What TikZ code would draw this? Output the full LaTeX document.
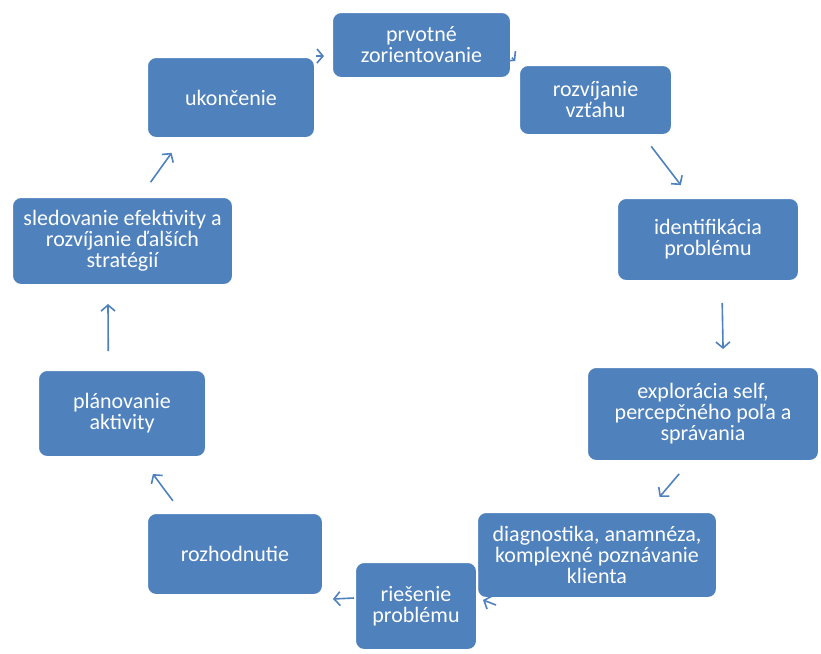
\documentclass[tikz,border=0pt]{standalone}
\usepackage{fontspec}
\setmainfont{Carlito}
\usetikzlibrary{arrows.meta}
\definecolor{boxblue}{RGB}{79,129,189}

\begin{document}
\begin{tikzpicture}[
    x=1pt,y=-1pt,
    stagebox/.style={draw=white, line width=2pt, rounded corners=9pt, fill=boxblue, text=white, align=center, inner sep=2pt, font=\fontsize{22}{21}\selectfont},
    arr/.style={draw=boxblue, line width=1.6pt, -{Straight Barb[length=6pt,width=14pt]}}
]
    \useasboundingbox (0,0) rectangle (821,653);

    % Stages of the cycle
    \node[stagebox, minimum width=179pt, minimum height=66pt] (prvo) at (421.5,45) {prvotné\\zorientovanie};
    \node[stagebox, minimum width=153pt, minimum height=70pt] (rozv) at (595.5,100) {rozvíjanie\\vzťahu};
    \node[stagebox, minimum width=182pt, minimum height=83pt] (iden) at (708,239.5) {identifikácia\\problému};
    \node[stagebox, minimum width=232pt, minimum height=94pt] (expl) at (703,414) {explorácia self,\\percepčného poľa a\\správania};
    \node[stagebox, minimum width=240pt, minimum height=86pt] (diag) at (597,555) {diagnostika, anamnéza,\\komplexné poznávanie\\klienta};
    \node[stagebox, minimum width=122pt, minimum height=88pt] (ries) at (416,606) {riešenie\\problému};
    \node[stagebox, minimum width=176pt, minimum height=82pt] (rozh) at (235,554) {rozhodnutie};
    \node[stagebox, minimum width=168pt, minimum height=87pt] (plan) at (122,413.5) {plánovanie\\aktivity};
    \node[stagebox, minimum width=221pt, minimum height=88pt] (sled) at (122.5,241) {sledovanie efektivity a\\rozvíjanie ďalších\\stratégií};
    \node[stagebox, minimum width=168pt, minimum height=81pt] (ukon) at (231,97.5) {ukončenie};

    % Arrows
    \draw[arr, shorten >=7pt] (ukon.north east) -- (prvo.187);
    \draw[arr, shorten >=4pt] (prvo.-8) -- (rozv.north west);
    \draw[arr, shorten <=13pt, shorten >=15pt] (rozv.-37.6) -- (iden.113.9);
    \draw[arr, shorten <=21pt, shorten >=17pt] (iden.-72.6) -- (expl.67);
    \draw[arr, shorten <=15.6pt, shorten >=18.4pt] (expl.-106.6) -- (diag.41.3);
    \draw[arr] ([xshift=20pt,yshift=-6pt]diag.south west) -- ([xshift=5pt,yshift=6pt]ries.east);
    \draw[arr] ([yshift=8pt]ries.west) -- ([xshift=9pt,yshift=-3pt]rozh.south east);
    \draw[arr, shorten <=14pt, shorten >=20pt] (rozh.142.1) -- (plan.-67.6);
    \draw[arr, shorten <=18pt, shorten >=18pt] (plan.107.8) -- (sled.-108.2);
    \draw[arr, shorten <=17pt, shorten >=17pt] (sled.68.2) -- (ukon.-140.5);
\end{tikzpicture}
\end{document}
